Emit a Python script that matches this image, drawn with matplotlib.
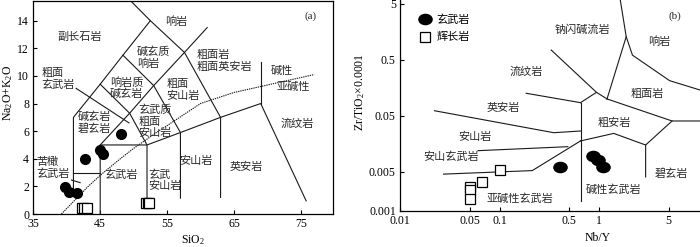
import matplotlib
matplotlib.use("Agg")
import matplotlib.pyplot as plt
from matplotlib.path import Path
from matplotlib.transforms import Affine2D
from matplotlib.ticker import FixedLocator, FixedFormatter, NullLocator

plt.rcParams['font.family'] = ['Liberation Serif', 'Noto Sans CJK SC']
plt.rcParams['mathtext.fontset'] = 'custom'
plt.rcParams['mathtext.rm'] = 'Liberation Serif'
plt.rcParams['mathtext.it'] = 'Liberation Serif:italic'

# ---- panel (a) TAS data ----
tas_basalt_sio2 = [39.8, 40.4, 41.6, 42.7, 45.0, 45.4, 48.1]
tas_basalt_alk = [1.95, 1.6, 1.5, 3.96, 4.62, 4.35, 5.8]
tas_gabbro_sio2 = [42.3, 42.65, 43.0, 51.9, 52.1, 52.3]
tas_gabbro_alk = [0.42, 0.42, 0.42, 0.82, 0.82, 0.82]

# field boundaries (SiO2, Na2O+K2O)
tas_lines = [
    [(41, 1.3), (41, 7), (45, 9.4), (48.4, 11.5), (52.5, 14), (48.4, 16)],
    [(52.5, 14), (57.6, 11.7), (63, 7), (63, 1.2)],
    [(48.4, 11.5), (53, 9.3), (57, 5.9), (57, 1.15)],
    [(45, 9.4), (49.4, 7.3), (52, 5), (52, 0.9)],
    [(45, 5), (49.4, 7.3), (53, 9.3), (57.6, 11.7), (61, 13.5)],
    [(45, 0), (45, 5), (52, 5), (57, 5.9), (63, 7), (69, 8), (75.8, 0.95)],
    [(41, 3), (45, 3)],
    [(69, 8), (69, 11)],
    [(41.4, 9.1), (49.3, 6.6)],
    [(40.7, 2.46), (42.0, 2.27)],
]
# Irvine & Baragar alkaline / subalkaline divide
ib_sio2 = [39.2, 40, 43.2, 45, 48, 50, 53.7, 55, 60, 65, 77]
ib_alk = [0, 0.4, 2, 2.8, 4, 4.75, 6, 6.4, 8, 8.8, 10.1]

tas_labels = [
    (76.4, 14.36, "(a)", 'center'),
    (56.3, 13.9, "响岩", 'center'),
    (41.9, 12.84, "副长石岩", 'center'),
    (50.45, 11.33, "碱玄质\n响岩", 'left'),
    (59.4, 11.08, "粗面岩\n粗面英安岩", 'left'),
    (36.26, 9.79, "粗面\n玄武岩", 'left'),
    (46.46, 9.12, "响岩质\n碱玄岩", 'left'),
    (54.94, 8.98, "粗面\n安山岩", 'left'),
    (50.7, 6.7, "玄武质\n粗面\n安山岩", 'left'),
    (41.6, 6.6, "碱玄岩\n碧玄岩", 'left'),
    (35.5, 3.33, "苦橄\n玄武岩", 'left'),
    (48.1, 2.82, "玄武岩", 'center'),
    (52.2, 2.44, "玄武\n安山岩", 'left'),
    (59.3, 3.86, "安山岩", 'center'),
    (66.9, 3.43, "英安岩", 'center'),
    (74.4, 6.57, "流纹岩", 'center'),
    (72.1, 10.38, "碱性", 'center'),
    (73.9, 9.17, "亚碱性", 'center'),
]

# ---- panel (b) Winchester & Floyd data ----
wf_basalt_nby = [0.40, 0.87, 0.97, 1.09]
wf_basalt_zr = [0.0061, 0.0095, 0.0081, 0.0061]
wf_gabbro_nby = [0.1, 0.066, 0.05, 0.05, 0.05]
wf_gabbro_zr = [0.0053, 0.0033, 0.0027, 0.0023, 0.0016]

wf_lines = [
    [(0.65, 0.085), (0.65, 0.0015)],
    [(0.0222, 0.061), (0.35, 0.0247), (0.65, 0.0265)],
    [(0.185, 0.125), (0.65, 0.085)],
    [(0.65, 0.085), (0.94, 0.13), (1.2, 0.099)],
    [(0.33, 0.74), (0.94, 0.13)],
    [(1.2, 0.099), (1.87, 1.28), (1.63, 5.8)],
    [(1.87, 1.28), (2.16, 0.60), (5.1, 0.21), (10.3, 0.143)],
    [(1.2, 0.099), (5.4, 0.040), (10.3, 0.040)],
    [(5.4, 0.040), (2.93, 0.0149), (2.93, 0.0040)],
    [(2.93, 0.0149), (1.4, 0.024), (0.65, 0.0176)],
    [(0.0607, 0.0118), (0.485, 0.0139)],
    [(0.65, 0.0176), (0.213, 0.0052), (0.0274, 0.0045)],
]

wf_labels = [
    (0.687, 1.73, "钠闪碱流岩"),
    (4.06, 1.04, "响岩"),
    (0.185, 0.303, "流纹岩"),
    (3.05, 0.12, "粗面岩"),
    (0.108, 0.0675, "英安岩"),
    (1.43, 0.0364, "粗安岩"),
    (0.056, 0.0209, "安山岩"),
    (0.0327, 0.0092, "安山玄武岩"),
    (5.32, 0.00466, "碧玄岩"),
    (1.4, 0.00234, "碱性玄武岩"),
    (0.161, 0.00162, "亚碱性玄武岩"),
    (5.74, 3.0, "(b)"),
]

x_ticks_b = [0.01, 0.05, 0.1, 0.5, 1, 5]
y_ticks_b = [0.001, 0.005, 0.05, 0.5, 5]

LC = '#1a1a1a'
FS = 8
TXT = dict(fontsize=FS, color='#2a2a2a', fontweight='light')

fig = plt.figure(figsize=(7, 2.47), dpi=100)

# ---------------- panel (a) ----------------
ax = fig.add_axes([0.0476, 0.1336, 0.428, 0.862])
for seg in tas_lines:
    xs, ys = zip(*seg)
    ax.plot(xs, ys, color=LC, lw=0.8)
ax.plot(ib_sio2, ib_alk, color=LC, lw=0.8, ls=(0, (1.2, 0.8)))
ax.plot(tas_gabbro_sio2, tas_gabbro_alk, 's', ms=7.2, mfc='white', mec='black', mew=0.9, ls='none')
ax.plot(tas_basalt_sio2, tas_basalt_alk, 'o', ms=7, color='black', ls='none')
for x, y, s, ha in tas_labels:
    ax.text(x, y, s, ha=ha, va='center', linespacing=1.15, **TXT)
ax.set_xlim(35, 79.8)
ax.set_ylim(0, 15.42)
ax.set_xticks([35, 45, 55, 65, 75])
ax.set_yticks(range(0, 15, 2))
ax.tick_params(direction='in', length=3, width=0.8, labelsize=8.5, pad=3)
for sp in ax.spines.values():
    sp.set_linewidth(0.9)
fig.text(0.012, 1 - 93 / 247, "Na$_2$O+K$_2$O", rotation=90, ha='center', va='center', fontsize=8.5)
fig.text(193 / 700, 1 - 240 / 247, "SiO$_2$", ha='center', va='center', fontsize=8.5)

# ---------------- panel (b) ----------------
bx = fig.add_axes([0.5714, 0.147, 0.4286, 0.853])
bx.set_xscale('log')
bx.set_yscale('log')
for seg in wf_lines:
    xs, ys = zip(*seg)
    bx.plot(xs, ys, color=LC, lw=0.8)
ellipse = Path.unit_circle().transformed(Affine2D().scale(1.3, 1.0))
bx.plot(wf_basalt_nby, wf_basalt_zr, marker=ellipse, ms=9.5, color='black', ls='none', label="玄武岩")
bx.plot(wf_gabbro_nby, wf_gabbro_zr, 's', ms=7.2, mfc='white', mec='black', mew=0.9, ls='none', label="辉长岩")
for x, y, s in wf_labels:
    bx.text(x, y, s, ha='center', va='center', **TXT)
bx.set_xlim(0.01, 10.3)
bx.set_ylim(0.001, 5.79)
bx.xaxis.set_major_locator(FixedLocator(x_ticks_b))
bx.xaxis.set_major_formatter(FixedFormatter([str(v) for v in x_ticks_b]))
bx.yaxis.set_major_locator(FixedLocator(y_ticks_b))
bx.yaxis.set_major_formatter(FixedFormatter([str(v) for v in y_ticks_b]))
bx.xaxis.set_minor_locator(NullLocator())
bx.yaxis.set_minor_locator(NullLocator())
bx.tick_params(direction='in', length=3, width=0.8, labelsize=8.5, pad=3)
bx.spines['top'].set_visible(False)
bx.spines['right'].set_visible(False)
for sp in bx.spines.values():
    sp.set_linewidth(0.9)
leg = bx.legend(loc='upper left', bbox_to_anchor=(0.04, 0.97), frameon=False,
                prop={'size': FS, 'weight': 'light'},
                handlelength=1.0, handletextpad=0.5, labelspacing=0.7, borderpad=0.2)
fig.text(360 / 700, 1 - 92 / 247, "Zr/TiO$_2$×0.0001", rotation=90, ha='center', va='center', fontsize=8.5)
fig.text(598 / 700, 1 - 238 / 247, "Nb/Y", ha='center', va='center', fontsize=8.5)

fig.savefig("out.png", dpi=100)
